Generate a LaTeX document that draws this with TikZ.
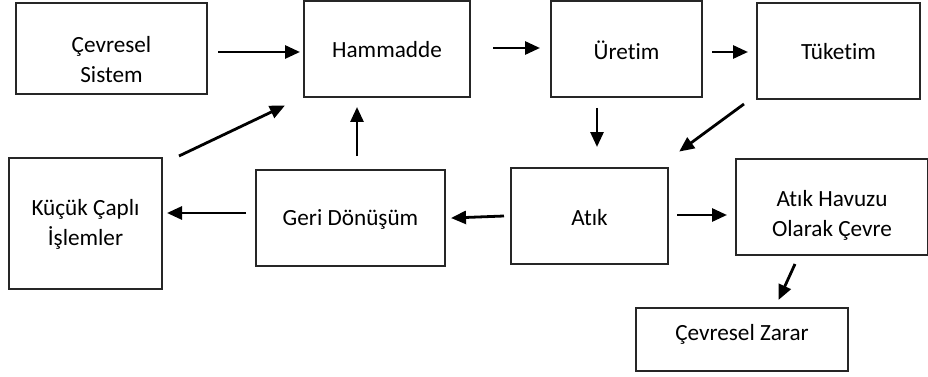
\documentclass[tikz,border=0pt]{standalone}
\usepackage{fontspec}
\setmainfont{Carlito}[Ligatures={NoCommon}]
\usetikzlibrary{arrows.meta}
\begin{document}
\begin{tikzpicture}[x=1pt,y=-1pt,
  boxst/.style={draw=black!85,line width=1.1pt},
  lbl/.style={font=\fontsize{23.2}{30}\selectfont,align=center,inner sep=0pt},
  arr/.style={line width=2.8pt,-{Triangle[length=15pt,width=13pt]},shorten >=-1pt}]
\useasboundingbox (0,0) rectangle (928,377);
% boxes
\draw[boxst] (16,3) rectangle (207,94);
\node[lbl] (cs) at (111.5,59.5) {Çevresel\\Sistem};
\draw[boxst] (304,1) rectangle (470,97);
\node[lbl] (ham) at (387,50) {Hammadde};
\draw[boxst] (551,1) rectangle (702,97);
\node[lbl] (ure) at (626.5,50) {Üretim};
\draw[boxst] (757,3) rectangle (920,99);
\node[lbl] (tuk) at (838.5,52) {Tüketim};
\draw[boxst] (9,158) rectangle (162,289);
\node[lbl] (kuc) at (85.5,224) {Küçük Çaplı\\İşlemler};
\draw[boxst] (256,170) rectangle (445,266);
\node[lbl] (geri) at (350.5,219) {Geri Dönüşüm};
\draw[boxst] (511,168) rectangle (668,264);
\node[lbl] (atik) at (589.5,218) {Atık};
\draw[boxst] (736,159) rectangle (927.5,255);
\node[lbl] (hav) at (832,215) {Atık Havuzu\\Olarak Çevre};
\draw[boxst] (636,308) rectangle (848,371);
\node[lbl] (zar) at (742,334) {Çevresel Zarar};
% arrow endpoints
\coordinate (a1s) at (218,52); \coordinate (a1e) at (299,52);
\coordinate (a2s) at (493,48); \coordinate (a2e) at (539,48);
\coordinate (a3s) at (712,52); \coordinate (a3e) at (747,52);
\coordinate (a4s) at (179,156); \coordinate (a4e) at (284,106);
\coordinate (a5s) at (357,156); \coordinate (a5e) at (357,108);
\coordinate (a6s) at (597,108); \coordinate (a6e) at (597,146);
\coordinate (a7s) at (744,104); \coordinate (a7e) at (680,151);
\coordinate (a8s) at (246,213); \coordinate (a8e) at (168,213);
\coordinate (a9s) at (504,216); \coordinate (a9e) at (452,218);
\coordinate (a10s) at (677,215); \coordinate (a10e) at (726,215);
\coordinate (a11s) at (795,264); \coordinate (a11e) at (779,299);
\foreach \i in {1,...,11} \draw[arr] (a\i s) -- (a\i e);
\end{tikzpicture}
\end{document}
